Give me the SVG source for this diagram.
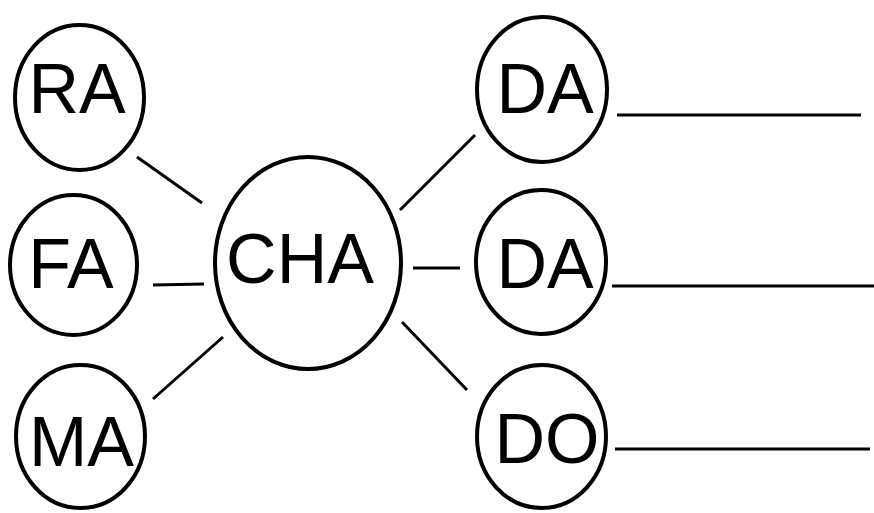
<svg xmlns="http://www.w3.org/2000/svg" width="874" height="513" viewBox="0 0 874 513">
<style>
.node ellipse{fill:none;stroke:#000;stroke-width:4}
.node text{font-family:"Liberation Sans",Arial,sans-serif;font-size:70px;fill:#000;text-anchor:middle}
#connectors line{stroke:#000;stroke-width:3}
</style>
<rect width="874" height="513" fill="#fff"/>
<g id="connectors">
<line x1="137" y1="157" x2="202" y2="203"/>
<line x1="153" y1="285" x2="204" y2="284"/>
<line x1="153" y1="399" x2="223" y2="337"/>
<line x1="400" y1="210" x2="475" y2="135"/>
<line x1="413" y1="268" x2="460" y2="268"/>
<line x1="402" y1="322" x2="467" y2="390"/>
<line x1="617" y1="115" x2="861" y2="115"/>
<line x1="612" y1="286" x2="874" y2="286"/>
<line x1="615" y1="449" x2="870" y2="449"/>
</g>
<g id="RA" class="node"><ellipse cx="79.5" cy="97.5" rx="64.5" ry="72.5"/><text x="77" y="113">RA</text></g>
<g id="FA" class="node"><ellipse cx="73.5" cy="265" rx="63.5" ry="70"/><text x="71" y="288">FA</text></g>
<g id="MA" class="node"><ellipse cx="80.5" cy="436.5" rx="64.5" ry="71.5"/><text x="81.5" y="466">MA</text></g>
<g id="CHA" class="node"><ellipse cx="308" cy="263" rx="93" ry="106"/><text x="300" y="283">CHA</text></g>
<g id="DA1" class="node"><ellipse cx="542" cy="89.5" rx="65" ry="72.5"/><text x="545" y="113">DA</text></g>
<g id="DA2" class="node"><ellipse cx="541" cy="262" rx="65" ry="72"/><text x="545" y="288">DA</text></g>
<g id="DO" class="node"><ellipse cx="541.5" cy="436.5" rx="64.5" ry="71.5"/><text x="547" y="463">DO</text></g>
</svg>
